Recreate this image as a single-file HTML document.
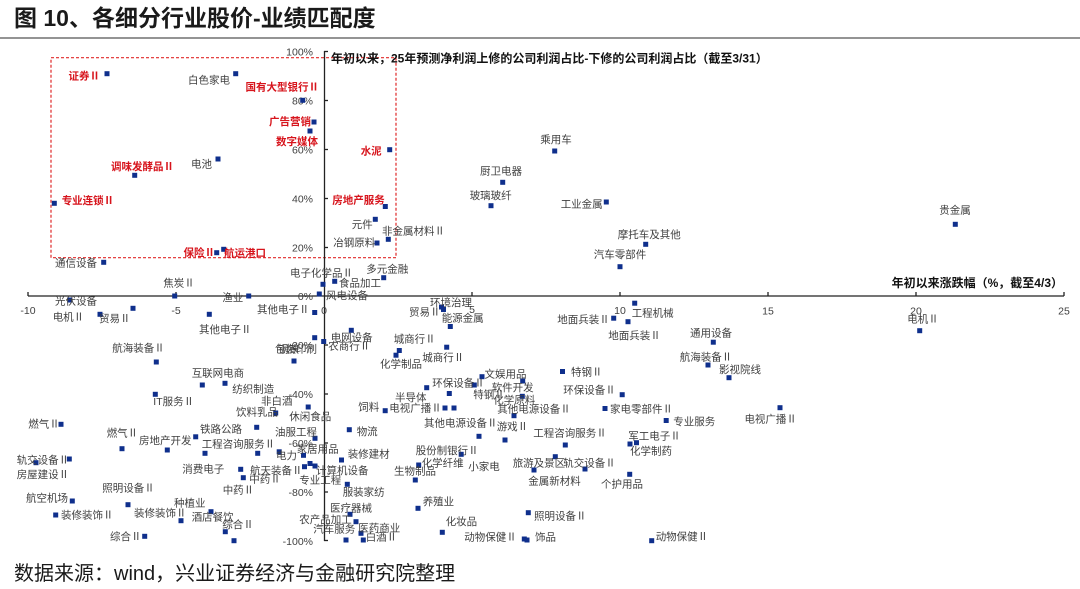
<!DOCTYPE html>
<html><head><meta charset="utf-8">
<style>
html,body{margin:0;padding:0;background:#fff;}
svg{display:block;font-family:"Liberation Sans","Noto Sans CJK SC",sans-serif;}
.l{font-size:10.5px;fill:#404040;}
.r{font-size:10.5px;fill:#d7141c;font-weight:bold;}
.t{font-size:10.5px;fill:#404040;}
.m{text-anchor:middle;}
.e{text-anchor:end;}
.ax{font-size:12px;font-weight:bold;fill:#111;}
</style></head>
<body>
<svg width="1080" height="589" viewBox="0 0 1080 589" xmlns="http://www.w3.org/2000/svg">
<rect width="1080" height="589" fill="#fff"/>
<text x="14" y="26" style="font-size:23px;font-weight:bold;fill:#1a1a1a">图 10、各细分行业股价-业绩匹配度</text>
<line x1="0" y1="38" x2="1080" y2="38" stroke="#555" stroke-width="1.3"/>
<text x="14" y="580" style="font-size:20px;fill:#1a1a1a">数据来源：wind，兴业证券经济与金融研究院整理</text>

<!-- red dashed box -->
<rect x="51" y="57.7" width="345" height="200" fill="none" stroke="#e02a2a" stroke-width="1.2" stroke-dasharray="3,2"/>

<!-- axes -->
<g stroke="#222" stroke-width="1.3">
<line x1="324.5" y1="51" x2="324.5" y2="541"/>
<line x1="28" y1="296" x2="1064" y2="296"/>
<line x1="324" y1="51.5" x2="328" y2="51.5"/>
<line x1="324" y1="100.5" x2="328" y2="100.5"/>
<line x1="324" y1="149.5" x2="328" y2="149.5"/>
<line x1="324" y1="198.5" x2="328" y2="198.5"/>
<line x1="324" y1="247.5" x2="328" y2="247.5"/>
<line x1="324" y1="345" x2="328" y2="345"/>
<line x1="324" y1="394" x2="328" y2="394"/>
<line x1="324" y1="443" x2="328" y2="443"/>
<line x1="324" y1="492" x2="328" y2="492"/>
<line x1="324" y1="540.5" x2="328" y2="540.5"/>
<line x1="28" y1="292" x2="28" y2="296"/>
<line x1="176" y1="292" x2="176" y2="296"/>
<line x1="472" y1="292" x2="472" y2="296"/>
<line x1="620" y1="292" x2="620" y2="296"/>
<line x1="768" y1="292" x2="768" y2="296"/>
<line x1="916" y1="292" x2="916" y2="296"/>
<line x1="1064" y1="292" x2="1064" y2="296"/>
</g>

<!-- y tick labels -->
<g class="t e">
<text x="313" y="55.5">100%</text>
<text x="313" y="104.3">80%</text>
<text x="313" y="153.5">60%</text>
<text x="313" y="202.5">40%</text>
<text x="313" y="251.3">20%</text>
<text x="313" y="299.8">0%</text>
<text x="313" y="348.8">-20%</text>
<text x="313" y="397.8">-40%</text>
<text x="313" y="446.8">-60%</text>
<text x="313" y="495.8">-80%</text>
<text x="313" y="544.8">-100%</text>
</g>
<!-- x tick labels -->
<g class="t m">
<text x="28" y="314">-10</text>
<text x="176" y="314">-5</text>
<text x="324" y="314">0</text>
<text x="472" y="313">5</text>
<text x="620" y="314">10</text>
<text x="768" y="314.5">15</text>
<text x="916" y="314.5">20</text>
<text x="1064" y="314.5">25</text>
</g>

<text x="331" y="62.5" class="ax">年初以来，25年预测净利润上修的公司利润占比-下修的公司利润占比（截至3/31）</text>
<text x="1063" y="287" class="ax e">年初以来涨跌幅（%，截至4/3）</text>

<!-- markers -->
<g fill="#0f2f8c">
<rect x="104.5" y="71.2" width="5" height="5"/>
<rect x="233.2" y="71.2" width="5" height="5"/>
<rect x="300.2" y="97.8" width="5" height="5"/>
<rect x="311.5" y="119.5" width="5" height="5"/>
<rect x="307.5" y="128.5" width="5" height="5"/>
<rect x="215.5" y="156.5" width="5" height="5"/>
<rect x="132.2" y="172.8" width="5" height="5"/>
<rect x="51.8" y="200.8" width="5" height="5"/>
<rect x="387.2" y="147.2" width="5" height="5"/>
<rect x="382.8" y="204" width="5" height="5"/>
<rect x="552.2" y="148.5" width="5" height="5"/>
<rect x="500.2" y="179.8" width="5" height="5"/>
<rect x="488.5" y="203.2" width="5" height="5"/>
<rect x="603.8" y="199.5" width="5" height="5"/>
<rect x="952.8" y="221.8" width="5" height="5"/>
<rect x="917.2" y="328.2" width="5" height="5"/>
<rect x="214.2" y="250.2" width="5" height="5"/>
<rect x="221.2" y="246.8" width="5" height="5"/>
<rect x="101.2" y="259.8" width="5" height="5"/>
<rect x="172.2" y="293.5" width="5" height="5"/>
<rect x="246.2" y="293.5" width="5" height="5"/>
<rect x="67.2" y="297.5" width="5" height="5"/>
<rect x="97.5" y="311.8" width="5" height="5"/>
<rect x="130.5" y="305.8" width="5" height="5"/>
<rect x="206.8" y="311.8" width="5" height="5"/>
<rect x="312.2" y="310" width="5" height="5"/>
<rect x="320.5" y="281.8" width="5" height="5"/>
<rect x="316.8" y="291.5" width="5" height="5"/>
<rect x="332.2" y="278.8" width="5" height="5"/>
<rect x="381.2" y="275.2" width="5" height="5"/>
<rect x="372.8" y="216.8" width="5" height="5"/>
<rect x="385.8" y="236.8" width="5" height="5"/>
<rect x="374.5" y="240.5" width="5" height="5"/>
<rect x="348.8" y="327.8" width="5" height="5"/>
<rect x="321.2" y="339" width="5" height="5"/>
<rect x="312.2" y="335.2" width="5" height="5"/>
<rect x="291.5" y="358.5" width="5" height="5"/>
<rect x="396.8" y="348" width="5" height="5"/>
<rect x="393.5" y="352.7" width="5" height="5"/>
<rect x="444.2" y="344.7" width="5" height="5"/>
<rect x="439" y="304.5" width="5" height="5"/>
<rect x="441" y="307" width="5" height="5"/>
<rect x="447.8" y="324" width="5" height="5"/>
<rect x="643.2" y="241.8" width="5" height="5"/>
<rect x="617.5" y="264.2" width="5" height="5"/>
<rect x="611.2" y="315.7" width="5" height="5"/>
<rect x="625.5" y="319.2" width="5" height="5"/>
<rect x="632.2" y="300.7" width="5" height="5"/>
<rect x="560" y="369" width="5" height="5"/>
<rect x="479.5" y="374.2" width="5" height="5"/>
<rect x="710.8" y="339.7" width="5" height="5"/>
<rect x="705.5" y="362.5" width="5" height="5"/>
<rect x="726.5" y="375.2" width="5" height="5"/>
<rect x="619.7" y="392.2" width="5" height="5"/>
<rect x="602.5" y="406" width="5" height="5"/>
<rect x="663.7" y="418" width="5" height="5"/>
<rect x="777.5" y="405.2" width="5" height="5"/>
<rect x="471.8" y="382.5" width="5" height="5"/>
<rect x="424.2" y="385.2" width="5" height="5"/>
<rect x="446.8" y="391" width="5" height="5"/>
<rect x="520.2" y="378.5" width="5" height="5"/>
<rect x="519.8" y="393.8" width="5" height="5"/>
<rect x="442.5" y="405.5" width="5" height="5"/>
<rect x="451.5" y="405.5" width="5" height="5"/>
<rect x="382.7" y="408.2" width="5" height="5"/>
<rect x="511.5" y="413.2" width="5" height="5"/>
<rect x="476.5" y="433.8" width="5" height="5"/>
<rect x="502.5" y="437.5" width="5" height="5"/>
<rect x="562.8" y="442.5" width="5" height="5"/>
<rect x="627.5" y="441.5" width="5" height="5"/>
<rect x="634" y="440.2" width="5" height="5"/>
<rect x="458.7" y="451.8" width="5" height="5"/>
<rect x="416.2" y="462.5" width="5" height="5"/>
<rect x="412.8" y="477.5" width="5" height="5"/>
<rect x="552.8" y="454.2" width="5" height="5"/>
<rect x="582.5" y="466.5" width="5" height="5"/>
<rect x="531.5" y="467.5" width="5" height="5"/>
<rect x="627.2" y="471.8" width="5" height="5"/>
<rect x="415.5" y="505.8" width="5" height="5"/>
<rect x="525.8" y="510.2" width="5" height="5"/>
<rect x="439.8" y="529.8" width="5" height="5"/>
<rect x="521.8" y="536.5" width="5" height="5"/>
<rect x="524.5" y="537.5" width="5" height="5"/>
<rect x="649.2" y="538.2" width="5" height="5"/>
<rect x="346.8" y="427.2" width="5" height="5"/>
<rect x="312.5" y="435.8" width="5" height="5"/>
<rect x="301" y="452.8" width="5" height="5"/>
<rect x="276.7" y="449.3" width="5" height="5"/>
<rect x="339" y="457.5" width="5" height="5"/>
<rect x="238.2" y="466.8" width="5" height="5"/>
<rect x="302" y="464.2" width="5" height="5"/>
<rect x="307.5" y="461" width="5" height="5"/>
<rect x="312.5" y="463.5" width="5" height="5"/>
<rect x="240.8" y="475.2" width="5" height="5"/>
<rect x="344.8" y="481.8" width="5" height="5"/>
<rect x="347.5" y="511.8" width="5" height="5"/>
<rect x="353.5" y="519.2" width="5" height="5"/>
<rect x="343.5" y="537.5" width="5" height="5"/>
<rect x="358.5" y="530.8" width="5" height="5"/>
<rect x="360.8" y="537.5" width="5" height="5"/>
<rect x="199.8" y="382.5" width="5" height="5"/>
<rect x="222.5" y="380.8" width="5" height="5"/>
<rect x="152.8" y="391.8" width="5" height="5"/>
<rect x="305.7" y="404.5" width="5" height="5"/>
<rect x="273.2" y="410.5" width="5" height="5"/>
<rect x="58.5" y="421.8" width="5" height="5"/>
<rect x="119.5" y="446.2" width="5" height="5"/>
<rect x="164.8" y="447.5" width="5" height="5"/>
<rect x="193.2" y="434.3" width="5" height="5"/>
<rect x="254.2" y="424.8" width="5" height="5"/>
<rect x="202.5" y="450.8" width="5" height="5"/>
<rect x="255.2" y="450.8" width="5" height="5"/>
<rect x="33.5" y="460.2" width="5" height="5"/>
<rect x="66.8" y="456.5" width="5" height="5"/>
<rect x="125.5" y="502.2" width="5" height="5"/>
<rect x="69.8" y="498.5" width="5" height="5"/>
<rect x="53.2" y="512.5" width="5" height="5"/>
<rect x="208.5" y="509.2" width="5" height="5"/>
<rect x="178.5" y="518.2" width="5" height="5"/>
<rect x="222.8" y="529.2" width="5" height="5"/>
<rect x="231.5" y="538.2" width="5" height="5"/>
<rect x="142.2" y="533.8" width="5" height="5"/>
<rect x="153.8" y="359.5" width="5" height="5"/>
</g>

<!-- red labels -->
<g class="r">
<text x="100" y="79.3" class="e">证券Ⅱ</text>
<text x="319" y="90.7" class="e">国有大型银行Ⅱ</text>
<text x="311" y="125" class="e">广告营销</text>
<text x="318" y="145" class="e">数字媒体</text>
<text x="111" y="170">调味发酵品Ⅱ</text>
<text x="61.7" y="204">专业连锁Ⅱ</text>
<text x="381.7" y="154.3" class="e">水泥</text>
<text x="332.3" y="203.3">房地产服务</text>
<text x="215" y="256" class="e">保险Ⅱ</text>
<text x="224" y="256.7">航运港口</text>
</g>

<!-- gray labels -->
<g class="l">
<text x="188" y="83.3">白色家电</text>
<text x="191" y="167.7">电池</text>
<text x="556" y="143" class="m">乘用车</text>
<text x="501" y="174.7" class="m">厨卫电器</text>
<text x="490.7" y="199" class="m">玻璃玻纤</text>
<text x="560.7" y="207.3">工业金属</text>
<text x="955" y="213.3" class="m">贵金属</text>
<text x="923" y="322.3" class="m">电机Ⅱ</text>
<text x="55" y="266.3">通信设备</text>
<text x="179" y="286.7" class="m">焦炭Ⅱ</text>
<text x="243.3" y="301" class="e">渔业</text>
<text x="55" y="304.3">光伏设备</text>
<text x="52.7" y="320.7">电机Ⅱ</text>
<text x="99" y="322">贸易Ⅱ</text>
<text x="199" y="333">其他电子Ⅱ</text>
<text x="257" y="313">其他电子Ⅱ</text>
<text x="290" y="276.3">电子化学品Ⅱ</text>
<text x="326" y="299">风电设备</text>
<text x="339" y="286.3">食品加工</text>
<text x="387.3" y="272.3" class="m">多元金融</text>
<text x="351.7" y="228">元件</text>
<text x="382" y="234.3">非金属材料Ⅱ</text>
<text x="333.3" y="246">冶钢原料</text>
<text x="330.7" y="341">电网设备</text>
<text x="328.3" y="349.7">农商行Ⅱ</text>
<text x="275" y="352.3">包装印刷</text>
<text x="278" y="352.3">钢铁</text>
<text x="393.7" y="342.3">城商行Ⅱ</text>
<text x="380" y="367.3">化学制品</text>
<text x="422.3" y="361">城商行Ⅱ</text>
<text x="409" y="315.3">贸易Ⅱ</text>
<text x="430" y="306">环境治理</text>
<text x="441.7" y="321.3">能源金属</text>
<text x="649.3" y="238" class="m">摩托车及其他</text>
<text x="620" y="258" class="m">汽车零部件</text>
<text x="557.3" y="323">地面兵装Ⅱ</text>
<text x="608.3" y="339">地面兵装Ⅱ</text>
<text x="631.7" y="316.7">工程机械</text>
<text x="571" y="375.5">特钢Ⅱ</text>
<text x="484.5" y="377.3">文娱用品</text>
<text x="711" y="336.7" class="m">通用设备</text>
<text x="706" y="360.7" class="m">航海装备Ⅱ</text>
<text x="740" y="373" class="m">影视院线</text>
<text x="563.3" y="393.7">环保设备Ⅱ</text>
<text x="610" y="412.3">家电零部件Ⅱ</text>
<text x="673.3" y="425">专业服务</text>
<text x="770.7" y="422.3" class="m">电视广播Ⅱ</text>
<text x="533.3" y="436.5">工程咨询服务Ⅱ</text>
<text x="628.3" y="439.3">军工电子Ⅱ</text>
<text x="630" y="454.7">化学制药</text>
<text x="432.3" y="386.3">环保设备Ⅱ</text>
<text x="491.7" y="391">软件开发</text>
<text x="473.3" y="398">特钢Ⅱ</text>
<text x="493.3" y="403.3">化学原料</text>
<text x="395" y="401">半导体</text>
<text x="389.3" y="411.3">电视广播Ⅱ</text>
<text x="358.3" y="410.7">饲料</text>
<text x="497.3" y="412.7">其他电源设备Ⅱ</text>
<text x="424" y="426.3">其他电源设备Ⅱ</text>
<text x="496.7" y="430">游戏Ⅱ</text>
<text x="415.7" y="454">股份制银行Ⅱ</text>
<text x="421.7" y="466.7">化学纤维</text>
<text x="484" y="470" class="m">小家电</text>
<text x="394" y="474.7">生物制品</text>
<text x="512.7" y="466.7">旅游及景区</text>
<text x="563.3" y="466.7">轨交设备Ⅱ</text>
<text x="528.3" y="484.7">金属新材料</text>
<text x="601" y="487.3">个护用品</text>
<text x="422.7" y="505">养殖业</text>
<text x="534" y="519.3">照明设备Ⅱ</text>
<text x="445.7" y="525">化妆品</text>
<text x="464.3" y="540.7">动物保健Ⅱ</text>
<text x="535" y="540.7">饰品</text>
<text x="655.7" y="540">动物保健Ⅱ</text>
<text x="356.7" y="435">物流</text>
<text x="275" y="435.5">油服工程</text>
<text x="296.7" y="452.7">家居用品</text>
<text x="276" y="459">电力</text>
<text x="347.7" y="457.7">装修建材</text>
<text x="250" y="474">航天装备Ⅱ</text>
<text x="316" y="474">计算机设备</text>
<text x="299.3" y="483.3">专业工程</text>
<text x="249.3" y="482.3">中药Ⅱ</text>
<text x="222.7" y="493.5">中药Ⅱ</text>
<text x="342.7" y="495.7">服装家纺</text>
<text x="330" y="511.3">医疗器械</text>
<text x="299.3" y="523">农产品加工</text>
<text x="313.3" y="532.7">汽车服务</text>
<text x="358.3" y="531.3">医药商业</text>
<text x="365.7" y="540.7">白酒Ⅱ</text>
<text x="191.7" y="376.7">互联网电商</text>
<text x="232.3" y="392.3">纺织制造</text>
<text x="153.3" y="405">IT服务Ⅱ</text>
<text x="261" y="404.7">非白酒</text>
<text x="236" y="415.3">饮料乳品</text>
<text x="289.3" y="420">休闲食品</text>
<text x="28.3" y="427.3">燃气Ⅱ</text>
<text x="106.7" y="436.3">燃气Ⅱ</text>
<text x="139" y="444">房地产开发</text>
<text x="200" y="432.7">铁路公路</text>
<text x="201.7" y="447.7">工程咨询服务Ⅱ</text>
<text x="16.7" y="463.3">轨交设备Ⅱ</text>
<text x="16.7" y="478">房屋建设Ⅱ</text>
<text x="182.3" y="472.7">消费电子</text>
<text x="102.3" y="491.7">照明设备Ⅱ</text>
<text x="26" y="501.7">航空机场</text>
<text x="61" y="518.3">装修装饰Ⅱ</text>
<text x="174" y="506.7">种植业</text>
<text x="134" y="516.7">装修装饰Ⅱ</text>
<text x="191.7" y="520.7">酒店餐饮</text>
<text x="222.3" y="528">综合Ⅱ</text>
<text x="110" y="540">综合Ⅱ</text>
<text x="112.3" y="351.7">航海装备Ⅱ</text>
</g>
</svg>
</body></html>
